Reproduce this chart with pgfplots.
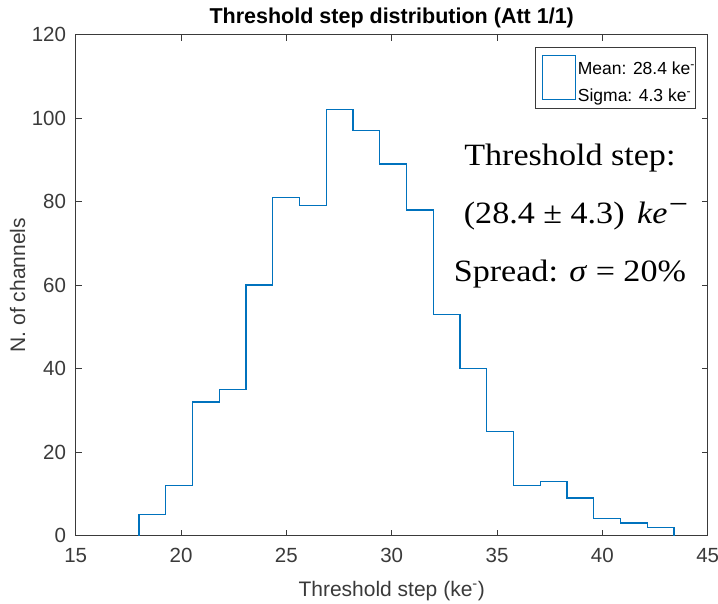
\documentclass[border=0pt]{standalone}
\usepackage{pgfplots}
\pgfplotsset{compat=1.18}
\usepackage{fontspec}
\setmainfont{Liberation Sans}
\newfontfamily\cambria[FakeStretch=1.1]{Liberation Serif}
\definecolor{mblue}{HTML}{0072BD}
\definecolor{axgray}{HTML}{3A3A3A}

\pgfplotstableread{
x y
18.00 0
18.00 5
19.27 12
20.54 32
21.81 35
23.08 60
24.35 81
25.62 79
26.89 102
28.16 97
29.43 89
30.70 78
31.97 53
33.24 40
34.51 25
35.78 12
37.05 13
38.32 9
39.59 4
40.86 3
42.13 2
43.40 2
43.40 0
}\histdata

\begin{document}
\begin{tikzpicture}
\path[use as bounding box] (-75.7pt,-67.5pt) rectangle (642.3pt,535.5pt);
\begin{axis}[
  at={(0pt,0pt)}, anchor=south west,
  scale only axis, width=632pt, height=500.8pt,
  xmin=15, xmax=45, ymin=0, ymax=120,
  xtick={15,20,...,45}, ytick={0,20,...,120},
  minor tick num=0,
  tick align=inside, major tick length=6pt,
  axis line style={axgray, line width=0.9pt},
  every tick/.style={axgray, line width=0.8pt},
  /pgf/number format/assume math mode=true,
  tick label style={font=\fontsize{20.5}{24}\selectfont, text=axgray, inner sep=0pt},
  xticklabel style={anchor=north, yshift=-12.5pt},
  yticklabel style={anchor=east, xshift=-9.5pt},
  title={Threshold step distribution (Att 1/1)},
  title style={font=\fontsize{21.5}{26}\selectfont\bfseries, inner sep=0pt, at={(axis description cs:0.5,1.0095)}, anchor=base},
  xlabel={Threshold step (ke\textsuperscript{-})},
  xlabel style={font=\fontsize{21}{25}\selectfont, text=axgray, at={(axis description cs:0.5,-0.1208)}, anchor=base},
  ylabel={N. of channels},
  ylabel style={font=\fontsize{21}{25}\selectfont, text=axgray, at={(axis description cs:-0.0802,0.5)}, anchor=base},
]
\addplot[const plot, mblue, line width=1.3pt] table[x=x, y=y] {\histdata};

% legend box (one entry, two-line text)
\draw[axgray, line width=0.8pt, fill=white]
  ([xshift=-172.7pt,yshift=-73.6pt]rel axis cs:1,1) rectangle ([xshift=-12pt,yshift=-12.6pt]rel axis cs:1,1);
\draw[mblue, line width=1pt]
  ([xshift=-165pt,yshift=-65.3pt]rel axis cs:1,1) rectangle ([xshift=-132.7pt,yshift=-21pt]rel axis cs:1,1);
\node[anchor=base west, inner sep=0pt, font=\fontsize{17.5}{20}\selectfont]
  at ([xshift=-130pt,yshift=-40.3pt]rel axis cs:1,1) {Mean: 28.4 ke\textsuperscript{-}};
\node[anchor=base west, inner sep=0pt, font=\fontsize{17.5}{20}\selectfont]
  at ([xshift=-130pt,yshift=-67pt]rel axis cs:1,1) {Sigma: 4.3 ke\textsuperscript{-}};

\node[anchor=base, font=\cambria\fontsize{31}{37}\selectfont] at (axis cs:38.46,88.7) {Threshold step:};
\node[anchor=base, font=\cambria\fontsize{31}{37}\selectfont] at (axis cs:38.75,74.8) {(28.4 ± 4.3)\hspace{4pt} \textit{ke}\kern1.5pt\raisebox{9pt}{−}};
\node[anchor=base, font=\cambria\fontsize{31}{37}\selectfont] at (axis cs:38.46,60.8) {Spread: \textit{σ} = 20\%};
\end{axis}
\end{tikzpicture}
\end{document}
